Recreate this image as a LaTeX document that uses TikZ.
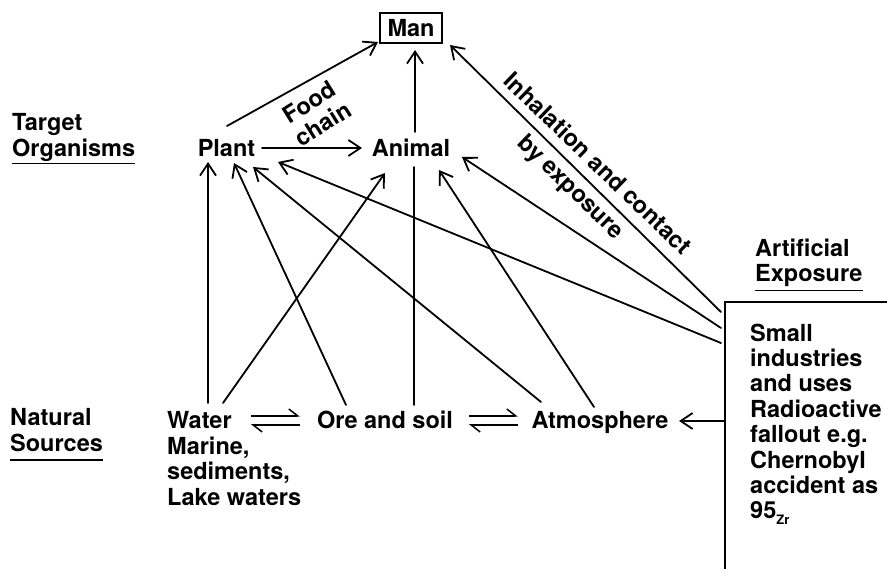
\documentclass[tikz,border=0pt]{standalone}
\usepackage{fontspec}
\setmainfont{TeX Gyre Heros}
\usetikzlibrary{arrows.meta,calc}
\begin{document}
\begin{tikzpicture}[x=1pt,y=-1pt,
  txt/.style={font=\fontsize{23.5}{25.4}\selectfont\bfseries, inner sep=0pt},
  blk/.style={txt, align=left},
  con/.style={line width=1.8pt, line cap=round},
  arr/.style={con, -{Straight Barb[length=12pt,width=16pt]}},
  harp/.style={line width=1.5pt, -{Straight Barb[harpoon,length=9pt,width=14pt]}},
  uline/.style={line width=1.6pt},
  boxline/.style={line width=1.5pt}
]
\useasboundingbox (0,0) rectangle (887,569);

% side labels
\node[blk, anchor=north west] (tgt) at (12,113.5) {Target\\Organisms};
\node[blk, anchor=north west] (nat) at (10,408.5) {Natural\\Sources};
\node[blk, anchor=north west] (art) at (755,238.5) {Artificial\\Exposure};
\draw[uline] ([yshift=-2pt]tgt.south west) -- ([yshift=-2pt]tgt.south east);
\draw[uline] ([yshift=-8.5pt]nat.south west) -- ([yshift=-8.5pt]nat.south east);
\draw[uline] ([yshift=-3.5pt]art.south west) -- ([yshift=-3.5pt]art.south east);

% main nodes
\node[txt, draw, line width=1.5pt, minimum width=62pt, minimum height=30pt] (man) at (411,28) {Man};
\node[txt, anchor=base] (plant) at (226.5,157) {Plant};
\node[txt, anchor=base] (animal) at (411,157) {Animal};
\node[txt, anchor=base west] (water) at (167,428.5) {Water};
\node[blk, anchor=north west] (watersub) at (167,436.5) {Marine,\\sediments,\\Lake waters};
\node[txt, anchor=base] (ore) at (385,428.5) {Ore and soil};
\node[txt, anchor=base] (atm) at (600,428.5) {Atmosphere};
\node[blk, anchor=north west] (src) at (750,323.5) {Small\\industries\\and uses\\Radioactive\\fallout e.g.\\Chernobyl\\accident as\\95\raisebox{-6pt}{\fontsize{13}{13}\selectfont Zr}};

% artificial source box
\coordinate (boxtr) at (887,302);
\coordinate (boxtl) at (725,302);
\coordinate (boxbl) at (725,569);
\draw[boxline] (boxtr) -- (boxtl) -- (boxbl);

% labels on connectors
\node[txt, align=center, rotate=32] (food) at (316,113) {Food\\chain};
\node[txt, rotate=-44] (inh) at (598,163) {Inhalation and contact};
\node[txt, rotate=-44] (byexp) at (570,188) {by exposure};

% connector end points
\coordinate (plantTop) at (227,126);
\coordinate (manSW) at (378,42);
\coordinate (plantE) at (262,148);
\coordinate (animalW) at (362,148);
\coordinate (animalTop) at (415,132);
\coordinate (manS) at (415,50);
\coordinate (oreTop) at (414,405);
\coordinate (animalBot) at (414,167);
\coordinate (waterTopA) at (208,403);
\coordinate (plantBotA) at (208,162);
\coordinate (oreTopB) at (346,405);
\coordinate (plantBotB) at (234,163);
\coordinate (atmTopA) at (541,402);
\coordinate (plantBotC) at (253,167);
\coordinate (boxC) at (721,343);
\coordinate (plantBotD) at (278,162);
\coordinate (waterTopB) at (223,403);
\coordinate (animalBotA) at (385,173);
\coordinate (atmTopB) at (594,407);
\coordinate (animalBotB) at (439,170);
\coordinate (boxB) at (721,328);
\coordinate (animalE) at (462,157);
\coordinate (boxA) at (721,312);
\coordinate (manSE) at (450,45);
\coordinate (boxD) at (725,421);
\coordinate (atmE) at (679,421);
\coordinate (h1l) at (251,416);
\coordinate (h1r) at (300,416);
\coordinate (h1lb) at (251,425);
\coordinate (h1rb) at (300,425);
\coordinate (h2l) at (469,416);
\coordinate (h2r) at (518,416);
\coordinate (h2lb) at (469,425);
\coordinate (h2rb) at (518,425);

% connectors
\draw[arr] (plantTop) -- (manSW);
\draw[arr] (plantE) -- (animalW);
\draw[arr] (animalTop) -- (manS);
\draw[con] (oreTop) -- (animalBot);
\draw[arr] (waterTopA) -- (plantBotA);
\draw[arr] (oreTopB) -- (plantBotB);
\draw[arr] (atmTopA) -- (plantBotC);
\draw[arr] (boxC) -- (plantBotD);
\draw[arr] (waterTopB) -- (animalBotA);
\draw[arr] (atmTopB) -- (animalBotB);
\draw[arr] (boxB) -- (animalE);
\draw[arr] (boxA) -- (manSE);
\draw[arr] (boxD) -- (atmE);
\draw[harp] (h1l) -- (h1r);
\draw[harp] (h1rb) -- (h1lb);
\draw[harp] (h2l) -- (h2r);
\draw[harp] (h2rb) -- (h2lb);
\end{tikzpicture}
\end{document}
